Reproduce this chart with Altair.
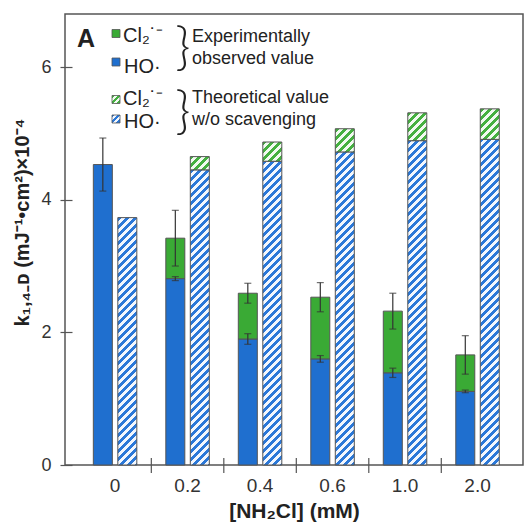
import math
import altair as alt
import pandas as pd

# ---- data ----
conc = ["0", "0.2", "0.4", "0.6", "1.0", "2.0"]
exp_ho = [4.53, 2.81, 1.90, 1.60, 1.39, 1.11]
exp_cl = [0.00, 0.61, 0.69, 0.93, 0.93, 0.55]
ho_err = [0.40, 0.03, 0.08, 0.05, 0.07, 0.02]
tot_err = [0.00, 0.42, 0.15, 0.22, 0.27, 0.29]
theo_ho = [3.73, 4.45, 4.58, 4.72, 4.89, 4.91]
theo_cl = [0.00, 0.20, 0.29, 0.35, 0.42, 0.46]

W, H = 458, 451
YMAX = 6.8
BLUE = "#1f6fcf"
GREEN = "#3aaa35"
HBLUE = "#2b78d8"
HGREEN = "#45b040"
HBG_B = "#f3f7fd"
HBG_G = "#f2faf1"
EDGE = "#555555"
FONT = "Liberation Sans"

# band geometry (used to size hatch gradients)
X_PO, X_ALIGN = 0.159, 0.6
O_PI, O_PO = 0.224, 0.592
step = W / (len(conc) + 2 * X_PO)
ostep = step / (2 - O_PI + 2 * O_PO)
BW = ostep * (1 - O_PI)


def hatch(w, h, color, bg, period=8.0):
    total = w + h
    n = int(math.ceil(total / period))
    stops = []
    for k in range(n):
        a = min(k * period / total, 1)
        b = min((k + 0.5) * period / total, 1)
        c = min((k + 1) * period / total, 1)
        stops += [{"offset": a, "color": color}, {"offset": b, "color": color},
                  {"offset": b, "color": bg}, {"offset": c, "color": bg}]
    L = (w * w + h * h) / total
    return {"gradient": "linear", "x1": 0, "y1": 0, "x2": w / L, "y2": h / L,
            "stops": stops}


x_axis = alt.Axis(title="[NH₂Cl] (mM)", labelAngle=0, ticks=False, tickSize=0,
                  domain=False, labelPadding=11, labelFontSize=19, labelFont=FONT,
                  labelColor="#333", titleFont=FONT, titleFontSize=21,
                  titleFontWeight="bold", titleColor="#222", titlePadding=5)
y_axis = alt.Axis(title="k₁,₄₋ᴅ (mJ⁻¹•cm²)×10⁻⁴", values=[0, 2, 4, 6], grid=False,
                  domain=False, tickSize=12, offset=-7, tickColor=EDGE, tickWidth=1.2,
                  labelPadding=9, labelFontSize=18, labelFont=FONT, labelColor="#333",
                  titleFont=FONT, titleFontSize=20, titleFontWeight="bold",
                  titleColor="#222", titlePadding=8, titleY=208)
x_scale = alt.Scale(domain=conc, paddingInner=0, paddingOuter=X_PO, align=X_ALIGN)
o_scale = alt.Scale(domain=["exp", "theo"], paddingInner=O_PI, paddingOuter=O_PO)
y_scale = alt.Scale(domain=[0, YMAX], nice=False, zero=True)


def X():
    return alt.X("conc:N", scale=x_scale, axis=x_axis, sort=conc)


def XO():
    return alt.XOffset("kind:N", scale=o_scale, sort=["exp", "theo"])


def Y(field):
    return alt.Y(field, scale=y_scale, axis=y_axis)


# experimental stacked bars
rows = []
for c, ho, cl in zip(conc, exp_ho, exp_cl):
    rows.append({"conc": c, "kind": "exp", "series": "HO", "y0": 0.0, "y1": ho})
    if cl > 0:
        rows.append({"conc": c, "kind": "exp", "series": "Cl", "y0": ho, "y1": ho + cl})
df_exp = pd.DataFrame(rows)

exp_bars = alt.Chart(df_exp).mark_bar(stroke=EDGE, strokeWidth=1).encode(
    x=X(), xOffset=XO(), y=Y("y1:Q"), y2="y0:Q",
    color=alt.Color("series:N", scale=alt.Scale(domain=["HO", "Cl"], range=[BLUE, GREEN]),
                    legend=None),
)

# theoretical hatched bars (one layer per bar, each with its own hatch gradient)
hatched = []
for c, ho, cl in zip(conc, theo_ho, theo_cl):
    segs = [(0.0, ho, HBLUE, HBG_B)]
    if cl > 0:
        segs.append((ho, ho + cl, HGREEN, HBG_G))
    for y0, y1, col, bg in segs:
        hpx = (y1 - y0) * H / YMAX
        d = pd.DataFrame([{"conc": c, "kind": "theo", "y0": y0, "y1": y1}])
        hatched.append(
            alt.Chart(d).mark_bar(fill=hatch(BW, hpx, col, bg), stroke=EDGE,
                                  strokeWidth=1).encode(
                x=X(), xOffset=XO(), y=Y("y1:Q"), y2="y0:Q")
        )

# error bars
erows = []
for c, ho, cl, e1, e2 in zip(conc, exp_ho, exp_cl, ho_err, tot_err):
    erows.append({"conc": c, "kind": "exp", "lo": ho - e1, "hi": ho + e1})
    if cl > 0:
        erows.append({"conc": c, "kind": "exp", "lo": ho + cl - e2, "hi": ho + cl + e2})
df_err = pd.DataFrame(erows)
err_rule = alt.Chart(df_err).mark_rule(color="#333", strokeWidth=1.2).encode(
    x=X(), xOffset=XO(), y=Y("lo:Q"), y2="hi:Q")
err_lo = alt.Chart(df_err).mark_tick(color="#333", size=7, thickness=1.2).encode(
    x=X(), xOffset=XO(), y=Y("lo:Q"))
err_hi = alt.Chart(df_err).mark_tick(color="#333", size=7, thickness=1.2).encode(
    x=X(), xOffset=XO(), y=Y("hi:Q"))

# x-axis ticks between groups
df_ticks = pd.DataFrame({"conc": conc[:-1]})
x_ticks = alt.Chart(df_ticks).mark_rule(color=EDGE, strokeWidth=1.2).encode(
    x=alt.X("conc:N", scale=x_scale, axis=x_axis, sort=conc, bandPosition=1),
    y=alt.value(H - 7), y2=alt.value(H + 8))

# ---- custom legend ----
one = pd.DataFrame({"a": [0]})


def txt(s, x, y, size, weight="normal", font=FONT, align="left", baseline="alphabetic"):
    return alt.Chart(one).mark_text(text=s, align=align, baseline=baseline, fontSize=size,
                                    fontWeight=weight, font=font, color="#222").encode(
        x=alt.value(x), y=alt.value(y))


def sq(x, y, fill):
    return alt.Chart(one).mark_point(shape="square", filled=True, size=64, fill=fill,
                                     stroke=EDGE, strokeWidth=0.8, opacity=1).encode(
        x=alt.value(x), y=alt.value(y))


legend = [
    txt("A", 12, 33, 25, "bold"),
    sq(51, 19.5, GREEN),
    sq(51, 48, BLUE),
    sq(51, 85.5, hatch(8, 8, HGREEN, HBG_G, 6)),
    sq(51, 105, hatch(8, 8, HBLUE, HBG_B, 6)),
    txt("Cl₂˙⁻", 58, 28, 20),
    txt("HO·", 59, 59, 20),
    txt("Cl₂˙⁻", 58, 91, 20),
    txt("HO·", 59, 114, 20),
    txt("}", 118, 34, 52, 300, "Lato", "center", "middle"),
    txt("}", 118, 98, 52, 300, "Lato", "center", "middle"),
    txt("Experimentally", 127, 28, 18),
    txt("observed value", 127, 50, 18),
    txt("Theoretical value", 127, 89, 18),
    txt("w/o scavenging", 127, 111, 18),
]

chart = alt.layer(*hatched, exp_bars, err_rule, err_lo, err_hi, x_ticks, *legend).properties(
    width=W, height=H,
    autosize=alt.AutoSizeParams(type="none"),
    padding={"left": 65, "top": 14, "right": 3, "bottom": 60},
    background="white",
).configure_view(stroke=EDGE, strokeWidth=1.5)

chart.save("out.html", embed_options={"renderer": "svg", "actions": False})
